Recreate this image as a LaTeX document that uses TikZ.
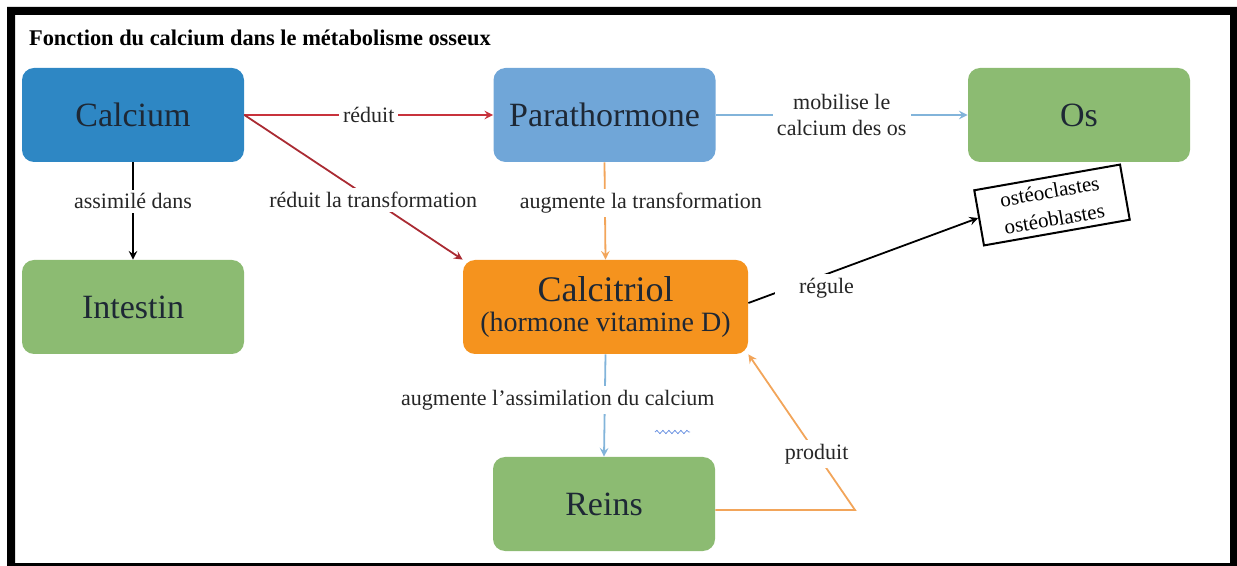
\documentclass[tikz,border=0pt]{standalone}
\usepackage{fontspec}
\setmainfont{Liberation Serif}
\usetikzlibrary{positioning,decorations.pathmorphing}

\definecolor{calblue}{HTML}{2E87C4}
\definecolor{parablue}{HTML}{70A6D8}
\definecolor{leaf}{HTML}{8CBB72}
\definecolor{amber}{HTML}{F5931E}
\definecolor{redarrow}{HTML}{C8323C}
\definecolor{skyarrow}{HTML}{82B4DA}
\definecolor{amberarrow}{HTML}{F2A55A}
\definecolor{ink}{HTML}{1E2835}

\begin{document}
\begin{tikzpicture}[
  x=0.5pt, y=-0.5pt, >=stealth,
  box/.style={rounded corners=6pt, minimum width=111pt, minimum height=47pt,
              text=ink, font=\fontsize{17}{20}\selectfont},
  lbl/.style={fill=white, text=black!85, font=\fontsize{11}{13}\selectfont, inner sep=2pt},
  link/.style={->, line width=0.9pt},
  ]
\useasboundingbox (0,0) rectangle (1237,566);
\fill[black, even odd rule] (7,7) rectangle (1237,566) (15,15) rectangle (1230,563);

\node[anchor=base west, font=\bfseries\fontsize{11.2}{13}\selectfont] (title) at (22,46)
  {Fonction du calcium dans le métabolisme osseux};

% boxes
\node[box, fill=calblue] (calcium) at (133,115) {Calcium};
\node[box, fill=parablue] (para) at (604.5,115) {Parathormone};
\node[box, fill=leaf] (os) at (1079,115) {Os};
\node[box, fill=leaf] (intestin) at (133,307) {Intestin};
\node[box, fill=amber, minimum width=142.5pt, align=center] (calcitriol) at (605.5,307)
  {{\fontsize{18}{20}\selectfont Calcitriol}\\[-5pt]{\fontsize{14}{16}\selectfont (hormone vitamine D)}};
\node[box, fill=leaf] (reins) at (604,504) {Reins};
\node[draw, line width=1pt, fill=white, rotate=10, align=center, inner sep=3pt,
      minimum width=74pt, minimum height=28pt,
      font=\fontsize{10.5}{13}\selectfont] (cells) at (1052,205) {ostéoclastes\\[1pt]ostéoblastes};

% links
\draw[link, redarrow] (calcium.east) -- node[lbl] {réduit} (para.west);
\draw[link, redarrow!85!black] (calcium.east) -- node[lbl, pos=0.59] {réduit la transformation} (calcitriol.north west);
\draw[link, black] (calcium.south) -- node[lbl, pos=0.4] {assimilé dans} (intestin.north);
\draw[link, skyarrow] (para.east) -- node[lbl, align=center] {mobilise le\\calcium des os} (os.west);
\draw[link, amberarrow] (para.south) -- node[lbl, pos=0.42, xshift=18pt] {augmente la transformation} (calcitriol.north);
\draw[link, skyarrow] (calcitriol.south) -- node[lbl, pos=0.45, xshift=-23.5pt] {augmente l'assimilation du calcium} (reins.north);
\draw[link, black] ([yshift=2pt]calcitriol.east) -- node[lbl, pos=0.34, yshift=-7pt, minimum width=52pt, minimum height=14pt] {régule} (cells.west);
\coordinate (bend) at (855,510);
\draw[link, amberarrow] (reins.east |- bend) -- (bend) -- node[lbl, pos=0.36] {produit} (calcitriol.south east);

\draw[skyarrow!80!blue, decorate, decoration={snake, amplitude=0.8pt, segment length=3pt}] (655,432) -- (690,432);
\end{tikzpicture}
\end{document}
